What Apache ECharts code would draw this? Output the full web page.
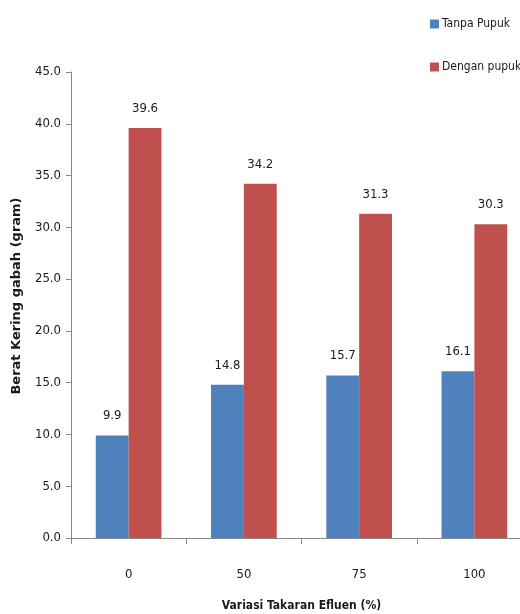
<!DOCTYPE html>
<html>
<head>
<meta charset="utf-8">
<script src="https://cdn.jsdelivr.net/npm/echarts@6/dist/echarts.min.js"></script>
<style>
  html, body { margin: 0; padding: 0; background: #fff; }
  #chart { width: 520px; height: 614px; }
</style>
</head>
<body>
<div id="chart"></div>
<script>
// Dry grain weight by effluent dose, with and without fertilizer
const categories = ['0', '50', '75', '100'];
const tanpaPupuk = [9.9, 14.8, 15.7, 16.1];
const denganPupuk = [39.6, 34.2, 31.3, 30.3];
const seriesNames = ['Tanpa Pupuk', 'Dengan pupuk'];
const yTicks = { min: 0, max: 45, interval: 5 };

const FONT = '"DejaVu Sans Condensed", "Liberation Sans Narrow", sans-serif';
const chart = echarts.init(document.getElementById('chart'));

const labelStyle = {
  show: true,
  position: 'top',
  distance: 13,
  fontFamily: FONT,
  fontSize: 13,
  color: '#1a1a1a',
  formatter: p => p.value.toFixed(1)
};

chart.setOption({
  animation: false,
  legend: {
    orient: 'vertical',
    left: 425,
    top: 13,
    itemGap: 31,
    itemWidth: 9,
    itemHeight: 9,
    icon: 'rect',
    textStyle: { fontFamily: FONT, fontSize: 12, color: '#1a1a1a', padding: [0, 0, 0, -2] },
    data: seriesNames
  },
  grid: { left: 71, right: -12, top: 72, bottom: 76, outerBoundsMode: 'none' },
  xAxis: {
    type: 'category',
    data: categories,
    name: 'Variasi Takaran Efluen (%)',
    nameLocation: 'middle',
    nameGap: 62,
    nameTextStyle: { fontFamily: FONT, fontSize: 12, fontWeight: 'bold', color: '#1a1a1a' },
    axisLine: { lineStyle: { color: '#888', width: 1 } },
    axisTick: { show: true, length: 6, lineStyle: { color: '#888' } },
    axisLabel: { margin: 30, fontFamily: FONT, fontSize: 13, color: '#1a1a1a' }
  },
  yAxis: {
    type: 'value',
    min: yTicks.min,
    max: yTicks.max,
    interval: yTicks.interval,
    name: 'Berat Kering gabah (gram)',
    nameLocation: 'middle',
    nameGap: 48,
    nameTextStyle: { fontFamily: '"DejaVu Sans", sans-serif', fontSize: 13, fontWeight: 'bold', color: '#1a1a1a', padding: [0, 0, 0, 18] },
    axisLine: { show: true, lineStyle: { color: '#888', width: 1 } },
    axisTick: { show: true, inside: false, length: 5, lineStyle: { color: '#888' } },
    axisLabel: { margin: 10, fontFamily: FONT, fontSize: 13, color: '#1a1a1a', formatter: v => v.toFixed(1) },
    splitLine: { show: false }
  },
  series: [
    {
      name: seriesNames[0],
      type: 'bar',
      data: tanpaPupuk,
      barGap: '0%',
      barCategoryGap: '43%',
      itemStyle: { color: '#4F81BD' },
      label: labelStyle
    },
    {
      name: seriesNames[1],
      type: 'bar',
      data: denganPupuk,
      barGap: '0%',
      barCategoryGap: '43%',
      itemStyle: { color: '#C0504D' },
      label: labelStyle
    }
  ]
});
</script>
</body>
</html>
